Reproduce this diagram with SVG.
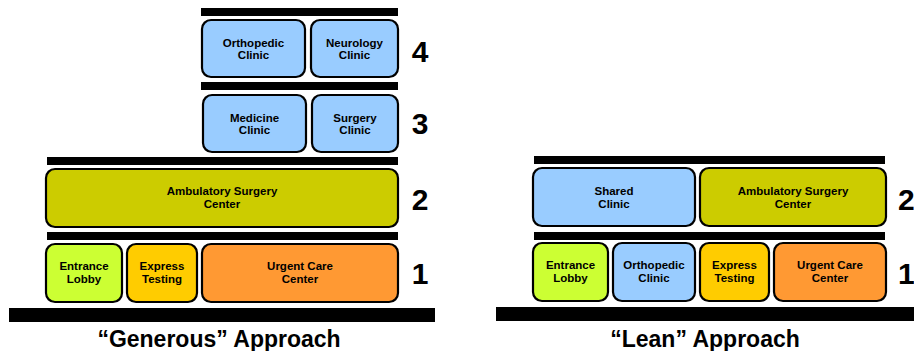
<svg xmlns="http://www.w3.org/2000/svg" width="914" height="351" viewBox="0 0 914 351">
<style>
.bar{fill:#000}
.box rect{stroke:#000;stroke-width:2.2}
.t{font-family:"Liberation Sans",Arial,sans-serif;font-weight:bold;font-size:11.5px;text-anchor:middle;fill:#000}
.num{font-family:"Liberation Sans",Arial,sans-serif;font-weight:bold;font-size:30px;text-anchor:middle;fill:#000}
.title{font-family:"Liberation Sans",Arial,sans-serif;font-weight:bold;font-size:23px;text-anchor:middle;fill:#000}
.blue{fill:#99CCFF}.olive{fill:#CCCC00}.lime{fill:#CCFF33}.yel{fill:#FFCC00}.org{fill:#FF9933}
</style>
<rect width="914" height="351" fill="#fff"/>
<g id="generous">
<rect class="bar" x="201" y="8" width="197" height="8"/>
<rect class="bar" x="201" y="82" width="197" height="8"/>
<rect class="bar" x="47" y="157" width="351" height="8"/>
<rect class="bar" x="47" y="232" width="351" height="8"/>
<rect class="bar" x="9" y="308" width="426" height="14"/>
<g id="g-ortho" class="box"><rect class="blue" x="202" y="20" width="103" height="57" rx="9"/><text class="t" x="253.5" y="47">Orthopedic</text><text class="t" x="253.5" y="59">Clinic</text></g>
<g id="g-neuro" class="box"><rect class="blue" x="311" y="20" width="87" height="57" rx="9"/><text class="t" x="354.5" y="47">Neurology</text><text class="t" x="354.5" y="59">Clinic</text></g>
<g id="g-med" class="box"><rect class="blue" x="203" y="95" width="103" height="57" rx="9"/><text class="t" x="254.5" y="122">Medicine</text><text class="t" x="254.5" y="134">Clinic</text></g>
<g id="g-surg" class="box"><rect class="blue" x="312" y="95" width="86" height="57" rx="9"/><text class="t" x="355" y="122">Surgery</text><text class="t" x="355" y="134">Clinic</text></g>
<g id="g-asc" class="box"><rect class="olive" x="46" y="169" width="352" height="58" rx="9"/><text class="t" x="222" y="195">Ambulatory Surgery</text><text class="t" x="222" y="208">Center</text></g>
<g id="g-lobby" class="box"><rect class="lime" x="46" y="244" width="76" height="58" rx="9"/><text class="t" x="84" y="270">Entrance</text><text class="t" x="84" y="283">Lobby</text></g>
<g id="g-express" class="box"><rect class="yel" x="127" y="244" width="70" height="58" rx="9"/><text class="t" x="162" y="270">Express</text><text class="t" x="162" y="283">Testing</text></g>
<g id="g-urgent" class="box"><rect class="org" x="202" y="244" width="196" height="58" rx="9"/><text class="t" x="300" y="270">Urgent Care</text><text class="t" x="300" y="283">Center</text></g>
<text class="num" x="420" y="62">4</text>
<text class="num" x="420" y="134">3</text>
<text class="num" x="420" y="210">2</text>
<text class="num" x="420" y="284">1</text>
<text class="title" x="219" y="347">“Generous” Approach</text>
</g>
<g id="lean">
<rect class="bar" x="534" y="156" width="351" height="8"/>
<rect class="bar" x="534" y="232" width="351" height="8"/>
<rect class="bar" x="496" y="307" width="418" height="14"/>
<g id="l-shared" class="box"><rect class="blue" x="533" y="168" width="162" height="58" rx="9"/><text class="t" x="614" y="195">Shared</text><text class="t" x="614" y="208">Clinic</text></g>
<g id="l-asc" class="box"><rect class="olive" x="700" y="168" width="186" height="58" rx="9"/><text class="t" x="793" y="195">Ambulatory Surgery</text><text class="t" x="793" y="208">Center</text></g>
<g id="l-lobby" class="box"><rect class="lime" x="533" y="243" width="75" height="58" rx="9"/><text class="t" x="570.5" y="269">Entrance</text><text class="t" x="570.5" y="282">Lobby</text></g>
<g id="l-ortho" class="box"><rect class="blue" x="613" y="243" width="82" height="58" rx="9"/><text class="t" x="654" y="269">Orthopedic</text><text class="t" x="654" y="282">Clinic</text></g>
<g id="l-express" class="box"><rect class="yel" x="700" y="243" width="69" height="58" rx="9"/><text class="t" x="734.5" y="269">Express</text><text class="t" x="734.5" y="282">Testing</text></g>
<g id="l-urgent" class="box"><rect class="org" x="774" y="243" width="112" height="58" rx="9"/><text class="t" x="830" y="269">Urgent Care</text><text class="t" x="830" y="282">Center</text></g>
<text class="num" x="898" y="210" style="text-anchor:start">2</text>
<text class="num" x="898" y="284" style="text-anchor:start">1</text>
<text class="title" x="705" y="347">“Lean” Approach</text>
</g>
</svg>
